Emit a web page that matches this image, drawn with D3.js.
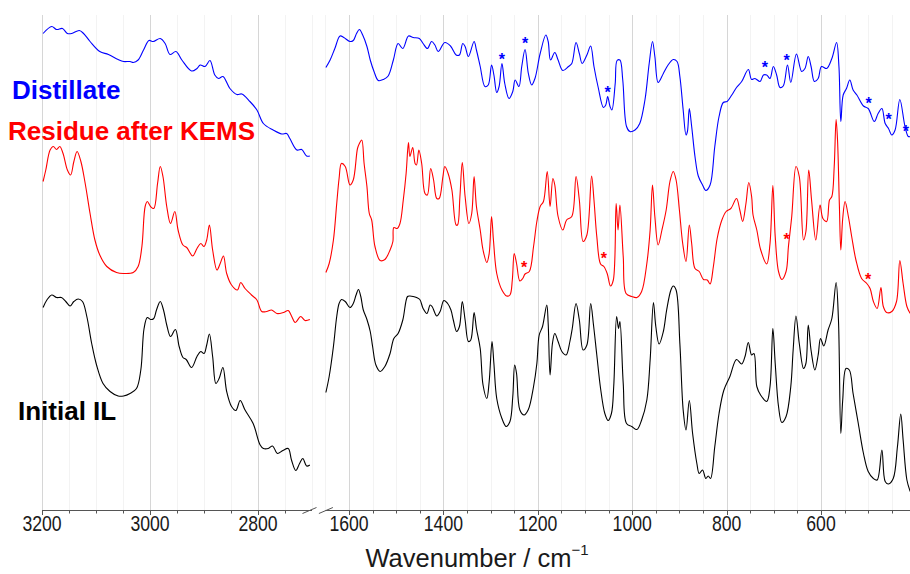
<!DOCTYPE html>
<html><head><meta charset="utf-8">
<script src="https://cdn.jsdelivr.net/npm/d3@7"></script>
<style>
body{margin:0;background:#fff}
svg{display:block}
text{font-family:"Liberation Sans", Arial, Helvetica, sans-serif}
</style>
</head><body>
<svg id="chart" width="910" height="574"></svg>
<script>
// ---- Data: [wavenumber (cm-1), intensity (a.u., offset)] ----
const distillateHigh = [[3198,95.3],[3182,96.7],[3173,96.1],[3162,96.3],[3153,95.3],[3145,95.3],[3131,95.9],[3123,95.3],[3111,93.7],[3093,91.7],[3077,91.1],[3059,90.1],[3049,89.7],[3037,89.7],[3031,89.5],[3022,90],[3012,92],[3002,93.9],[2994,93.7],[2981,94.3],[2972,93.3],[2963,91.1],[2952,91.7],[2941,90],[2923,87.8],[2913,88.3],[2907,89],[2898,88.7],[2889,89.9],[2880,87],[2873,86.3],[2865,86.7],[2852,84.3],[2839,83.1],[2830,83.2],[2815,81.7],[2802,80],[2790,77.3],[2772,76],[2756,75.2],[2747,75.3],[2741,74.3],[2728,72],[2719,72.1],[2710,70.8],[2704,70.8]];

const distillateLow = [[1649,88.5],[1640,90],[1630,92.3],[1619,94.8],[1611,94.5],[1598,93.7],[1591,93.9],[1584,95.3],[1578,96.1],[1571,95],[1562,92.7],[1555,90],[1547,87.7],[1538,85.9],[1527,86.1],[1517,86.8],[1506,90],[1496,93.3],[1486,92.3],[1474,94.8],[1464,94.5],[1451,94.3],[1443,93.3],[1434,92.3],[1425,93.7],[1418,93],[1411,91.7],[1397,93.5],[1385,92.8],[1373,91],[1366,91],[1359,93.3],[1354,92.7],[1347,90.7],[1335,93.7],[1330,92],[1322,88.7],[1312,84.7],[1305,85],[1298,89],[1293,87],[1287,83.5],[1282,84.7],[1276,89.3],[1270,85.3],[1261,82.3],[1253,83.7],[1248,86],[1240,84.7],[1234,88.7],[1227,92.1],[1220,87.3],[1213,85],[1206,86.3],[1195,91.3],[1183,95],[1178,93.7],[1173,90],[1164,91.5],[1157,90],[1147,87.9],[1135,88.7],[1128,89.3],[1119,93.5],[1112,91.3],[1106,89.3],[1096,91],[1088,92.8],[1081,88.7],[1072,84.5],[1061,80.5],[1056,81],[1052,82.7],[1047,80.7],[1043,80],[1036,85.3],[1032,89.9],[1026,90],[1020,86],[1012,76.7],[1005,75.7],[994,76],[984,77.3],[973,82],[964,89.3],[957,93.7],[952,90.7],[945,85.5],[934,87.3],[924,89],[913,90.1],[905,89.7],[899,86.7],[892,80],[886,75],[883,75.7],[879,80.3],[874,76.7],[867,70.7],[860,66.8],[851,65],[844,63.9],[835,65],[825,72.7],[816,78.7],[807,81.5],[799,81.7],[789,83],[779,84.5],[768,85.7],[754,88.1],[747,86.1],[740,86.3],[729,85.7],[722,87],[715,87],[708,86.3],[701,88.7],[694,87],[687,84.5],[680,84.8],[671,89],[664,85.5],[652,91.2],[641,87.7],[634,88.3],[627,90.7],[621,88.7],[614,85.7],[606,86.3],[599,88.7],[588,88.3],[577,90.3],[567,93.5],[562,88.7],[558,77.7],[553,83],[546,84.3],[539,86],[532,84],[524,83],[510,80.8],[500,80.3],[487,77.7],[479,79.3],[471,80.3],[464,77.3],[457,76.3],[450,75],[443,76],[433,82.1],[422,76.7],[415,74.7],[411,74.7]];

const residueHigh = [[3198,65.7],[3193,68],[3185,72],[3179,72.7],[3173,72.1],[3167,72.7],[3161,71.3],[3153,68],[3147,67],[3141,69.7],[3135,71.7],[3128,69.7],[3120,65.3],[3111,59.3],[3102,54],[3093,51],[3080,48.7],[3062,47.5],[3049,47.3],[3031,47.5],[3022,48.7],[3015,52.7],[3009,60.7],[3005,61.7],[2999,60.7],[2993,60.3],[2986,65.3],[2981,68.7],[2976,66.7],[2969,60.7],[2962,57.3],[2954,59.7],[2948,56],[2939,53],[2932,52.5],[2921,50.8],[2913,52.3],[2906,53.3],[2900,52.7],[2895,54],[2890,57],[2884,52],[2876,48],[2870,49.3],[2864,50.8],[2858,47.3],[2849,45],[2838,44],[2832,45.5],[2824,44.3],[2812,43],[2802,42],[2793,39.7],[2784,39.7],[2775,40],[2765,39.3],[2753,39.5],[2744,39.9],[2738,38.8],[2731,37.5],[2721,38.7],[2713,37.9],[2704,38.1]];

const residueLow = [[1649,47.5],[1642,49.3],[1633,54],[1626,61.3],[1621,66.3],[1616,69.3],[1608,68.7],[1598,65],[1591,66],[1582,72.3],[1578,73.3],[1573,74],[1568,69.3],[1562,64.7],[1557,59.3],[1552,58],[1545,52.7],[1534,49.9],[1524,50.1],[1513,52],[1507,53.7],[1505,56.5],[1498,56.3],[1492,57.3],[1485,62],[1479,67.3],[1474,73.5],[1471,70.7],[1465,72.5],[1460,69.3],[1457,69],[1452,72],[1446,69.3],[1439,63.3],[1434,63],[1427,68.3],[1421,66.1],[1414,62.3],[1409,62.3],[1401,66.7],[1397,68.7],[1390,67.3],[1382,64],[1373,57],[1370,57],[1365,62.7],[1360,69.5],[1354,62.7],[1346,57.3],[1340,59.3],[1335,66.7],[1330,60.7],[1322,56],[1316,52],[1308,49.5],[1303,51.3],[1298,58.7],[1294,54],[1287,47.3],[1276,44],[1266,42.8],[1259,43],[1254,46],[1250,51.3],[1245,49.3],[1238,45.8],[1232,46.3],[1227,47.2],[1218,47.7],[1209,52.7],[1202,57.7],[1195,60.7],[1188,61.7],[1180,67.7],[1174,60.7],[1168,66.3],[1164,65],[1157,58.7],[1147,56],[1139,58],[1128,58.7],[1119,66.7],[1112,62],[1104,53.7],[1096,55],[1086,66.8],[1081,62],[1075,54.7],[1067,49.2],[1060,48.7],[1053,47.3],[1046,44.8],[1040,46],[1034,61.3],[1030,56],[1026,61],[1019,50.7],[1013,43.3],[1001,42.7],[990,42.5],[980,43.7],[969,49.3],[962,56],[957,65],[952,58.7],[945,53],[937,56],[928,60],[920,65.7],[913,67.7],[907,66],[900,60],[893,53.3],[886,49.7],[879,57],[874,53.3],[867,48.3],[858,47.7],[849,46.1],[841,46],[835,45.2],[828,48.7],[820,54.3],[810,58],[801,59.7],[791,60.3],[779,62.3],[772,60],[766,57.7],[759,61.3],[753,65.5],[747,62.7],[744,59],[736,56],[728,52.1],[715,49.2],[708,53.3],[702,64.9],[697,54.7],[690,47.7],[683,46.1],[674,47.7],[669,52.7],[662,58.7],[653,68.7],[646,66.7],[637,54],[632,55.7],[626,68],[620,62],[611,54],[602,61],[596,58.3],[588,57.7],[582,62],[577,62.7],[572,68.7],[568,78.1],[565,74],[561,60.7],[558,52],[554,58.3],[549,61.7],[542,58.7],[535,54.7],[526,50],[514,46.3],[503,45.3],[496,44.3],[489,41.7],[481,40.3],[473,44.5],[468,40.7],[461,39.5],[450,39.7],[440,41.7],[433,49.9],[426,45.3],[418,40.7],[411,39.3]];

const initialHigh = [[3198,40.5],[3191,42],[3182,43],[3173,42.5],[3164,42.5],[3156,41.7],[3148,40.8],[3141,41.7],[3133,42.2],[3125,41.7],[3117,38.7],[3108,33.3],[3099,29],[3087,25.3],[3074,23.7],[3059,22.8],[3049,22.8],[3037,23.3],[3025,24.3],[3017,28],[3011,36.3],[3005,38.5],[2999,38.1],[2993,38.3],[2988,40],[2981,41.7],[2975,40],[2969,37],[2962,34.7],[2953,36.1],[2946,32.7],[2939,30.5],[2933,30.1],[2923,28.5],[2913,30.7],[2906,31.7],[2900,31.3],[2895,33],[2890,35.2],[2884,30.7],[2878,25.3],[2872,26.3],[2865,28.5],[2858,23.7],[2849,20.7],[2841,19.9],[2833,21.9],[2824,20],[2809,17.3],[2796,13],[2790,12.3],[2781,12.3],[2773,12.8],[2764,11.3],[2754,11.9],[2744,12.3],[2738,10],[2730,7.9],[2723,9.3],[2717,10.3],[2710,8.8],[2704,9]];

const initialLow = [[1649,23.5],[1642,26.7],[1633,32.7],[1626,38.7],[1621,41.3],[1616,42.1],[1608,41.7],[1598,40.5],[1591,41.3],[1585,43],[1580,44.1],[1575,42.7],[1570,40.1],[1562,38.1],[1555,35.7],[1550,32.7],[1543,29],[1534,27.7],[1524,28.7],[1513,31.3],[1505,34.3],[1496,35.3],[1486,38],[1476,42.7],[1471,42.8],[1464,42.7],[1457,42.5],[1450,42.1],[1443,40.3],[1435,39.3],[1428,41],[1424,40.7],[1414,38.8],[1407,39.7],[1399,41.9],[1391,41.3],[1384,40],[1379,38],[1372,35.7],[1366,36.7],[1360,41.7],[1354,38],[1347,33.7],[1342,34],[1335,39.5],[1330,36.3],[1322,32.3],[1316,25],[1308,22.3],[1303,25.7],[1297,33.7],[1293,29.3],[1287,22.3],[1276,18.3],[1267,16.7],[1259,17.7],[1253,22.7],[1249,29],[1245,27.3],[1238,20],[1229,19],[1220,20.1],[1209,24.7],[1202,29.3],[1197,35],[1190,36.7],[1181,41],[1178,37.3],[1174,27],[1169,33.3],[1164,35.3],[1157,33.7],[1149,31.7],[1140,31],[1132,33.7],[1127,36.3],[1119,41.3],[1112,38],[1104,32],[1096,33],[1088,41.3],[1082,37],[1075,31],[1067,24.3],[1058,19.3],[1051,17.9],[1044,19.3],[1039,25],[1033,38.7],[1029,36.3],[1026,37.7],[1019,25.3],[1012,17.3],[1001,16.7],[990,16.1],[980,18],[969,22],[962,30],[955,41.5],[950,36.7],[943,33.2],[934,35.7],[927,40],[918,44],[913,44.8],[907,44],[899,33.3],[892,20],[886,16],[879,21.9],[872,15.3],[863,9.3],[858,7.3],[851,8],[844,6.3],[839,6.8],[834,6.3],[825,12.7],[816,19.3],[806,23.9],[793,26.7],[779,30.1],[768,29.2],[761,30.7],[754,33.5],[747,31],[742,31.3],[736,24.7],[728,23],[715,21.7],[708,24.7],[702,36.3],[697,29.3],[690,20.7],[683,17.5],[674,18.7],[664,24.7],[659,32],[653,38.8],[646,33.3],[637,28.3],[632,29.3],[627,37],[621,31.9],[613,28],[606,31],[601,34.3],[594,32.8],[585,36],[577,38.3],[568,45.5],[563,38],[558,15.3],[554,22],[547,28.3],[540,28],[532,23.3],[521,17.3],[510,11.3],[500,7.7],[489,6.3],[481,6],[471,12],[464,5.7],[457,5.2],[447,6.3],[438,12.7],[431,19.2],[426,14],[418,6],[411,3.7]];

// asterisk marks [wavenumber, intensity]
const distillateStars = [[1276,90.7],[1227,94],[1052,84.1],[719,89.2],[673,90.5],[499,82],[457,78.7],[420,76.3]];
const residueStars = [[1229,49.2],[1060,51],[673,54.7],[500,46.8]];

const seriesNames = ["Distillate", "Residue after KEMS", "Initial IL"];
const seriesColors = ["#0000ff", "#ff0000", "#000000"];
const ticksHigh = [3200, 3000, 2800];
const ticksLow = [1600, 1400, 1200, 1000, 800, 600];
const axisTitle = "Wavenumber / cm";
const axisTitleSup = "\u22121";

// ---- Scales ----
const svg = d3.select("#chart");
const xHigh = d3.scaleLinear().domain([3200, 2700]).range([42, 312]);
const xLow = d3.scaleLinear().domain([1650, 400]).range([325.4, 915.4]);
const y = d3.scaleLinear().domain([0, 100]).range([510, 10]);
const axisY = y(0);
const gridTop = y(99);

// ---- Grid ----
const grid = svg.append("g");
const minorHigh = d3.range(3200, 2699, -50);
const minorLow = d3.range(1650, 399, -50);
function addGrid(vals, sc, color) {
  grid.selectAll(null).data(vals).enter().append("line")
    .attr("x1", d => Math.round(sc(d)) + 0.5).attr("x2", d => Math.round(sc(d)) + 0.5)
    .attr("y1", gridTop).attr("y2", axisY)
    .attr("stroke", color).attr("stroke-width", 1);
}
addGrid(minorHigh.filter(d => !ticksHigh.includes(d)), xHigh, "#f3f3f3");
addGrid(minorLow.filter(d => !ticksLow.includes(d)), xLow, "#f3f3f3");
addGrid(ticksHigh, xHigh, "#d6d6d6");
addGrid(ticksLow, xLow, "#d6d6d6");

// ---- Spectra ----
svg.append("clipPath").attr("id", "clipLow")
  .append("rect").attr("x", 320).attr("y", 0).attr("width", 590).attr("height", 520);
function lineGen(sc) {
  return d3.line().x(d => sc(d[0])).y(d => y(d[1])).curve(d3.curveCatmullRom.alpha(0.5));
}
const seriesHigh = [distillateHigh, residueHigh, initialHigh];
const seriesLow = [distillateLow, residueLow, initialLow];
seriesHigh.forEach((s, i) => {
  svg.append("path").datum(s).attr("d", lineGen(xHigh))
    .attr("fill", "none").attr("stroke", seriesColors[i]).attr("stroke-width", 1.1)
    .attr("stroke-linejoin", "round");
});
seriesLow.forEach((s, i) => {
  svg.append("path").datum(s).attr("d", lineGen(xLow))
    .attr("clip-path", "url(#clipLow)")
    .attr("fill", "none").attr("stroke", seriesColors[i]).attr("stroke-width", 1.1)
    .attr("stroke-linejoin", "round");
});

// ---- Asterisks ----
function addStars(data, color) {
  svg.selectAll(null).data(data).enter().append("text")
    .attr("x", d => xLow(d[0])).attr("y", d => y(d[1]) + 8.5)
    .attr("text-anchor", "middle").attr("font-size", 16).attr("font-weight", "bold")
    .attr("fill", color).text("*");
}
addStars(distillateStars, seriesColors[0]);
addStars(residueStars, seriesColors[1]);

// ---- Axis ----
const ax = svg.append("g").attr("stroke", "#555").attr("stroke-width", 1);
ax.append("line").attr("x1", xHigh(3200)).attr("x2", xHigh(2700)).attr("y1", axisY + 0.5).attr("y2", axisY + 0.5);
ax.append("line").attr("x1", xLow(1650)).attr("x2", 910).attr("y1", axisY + 0.5).attr("y2", axisY + 0.5);
// break marks
[xHigh(2700) - 2.5, xLow(1650) + 0.5].forEach(cx => {
  ax.append("line").attr("x1", cx - 7).attr("y1", axisY + 3.5).attr("x2", cx + 7).attr("y2", axisY - 2.5);
});
function addTicks(vals, sc, labels) {
  ax.selectAll(null).data(vals).enter().append("line")
    .attr("x1", d => Math.round(sc(d)) + 0.5).attr("x2", d => Math.round(sc(d)) + 0.5)
    .attr("y1", axisY).attr("y2", d => axisY + (labels.includes(d) ? 5 : 3.5));
  svg.selectAll(null).data(labels).enter().append("text")
    .attr("transform", d => `translate(${sc(d)},${axisY + 20.5}) scale(0.82,1)`)
    .attr("text-anchor", "middle").attr("font-size", 21.5).attr("fill", "#1a1a1a")
    .text(d => d);
}
addTicks(minorHigh.filter(d => d > 2700), xHigh, ticksHigh);
addTicks(minorLow.filter(d => d < 1650 && xLow(d) < 910), xLow, ticksLow);

// axis title
const title = svg.append("text").attr("x", 477).attr("y", 567)
  .attr("text-anchor", "middle").attr("font-size", 25.5).attr("fill", "#1a1a1a");
title.append("tspan").text(axisTitle);
title.append("tspan").attr("dy", -12).attr("font-size", 15).text(axisTitleSup);

// ---- Series labels ----
const labelPos = [[12, 99], [8, 140], [18, 420]];
seriesNames.forEach((n, i) => {
  svg.append("text").attr("x", labelPos[i][0]).attr("y", labelPos[i][1])
    .attr("font-size", 26).attr("font-weight", "bold").attr("fill", seriesColors[i]).text(n);
});
</script>
</body></html>
